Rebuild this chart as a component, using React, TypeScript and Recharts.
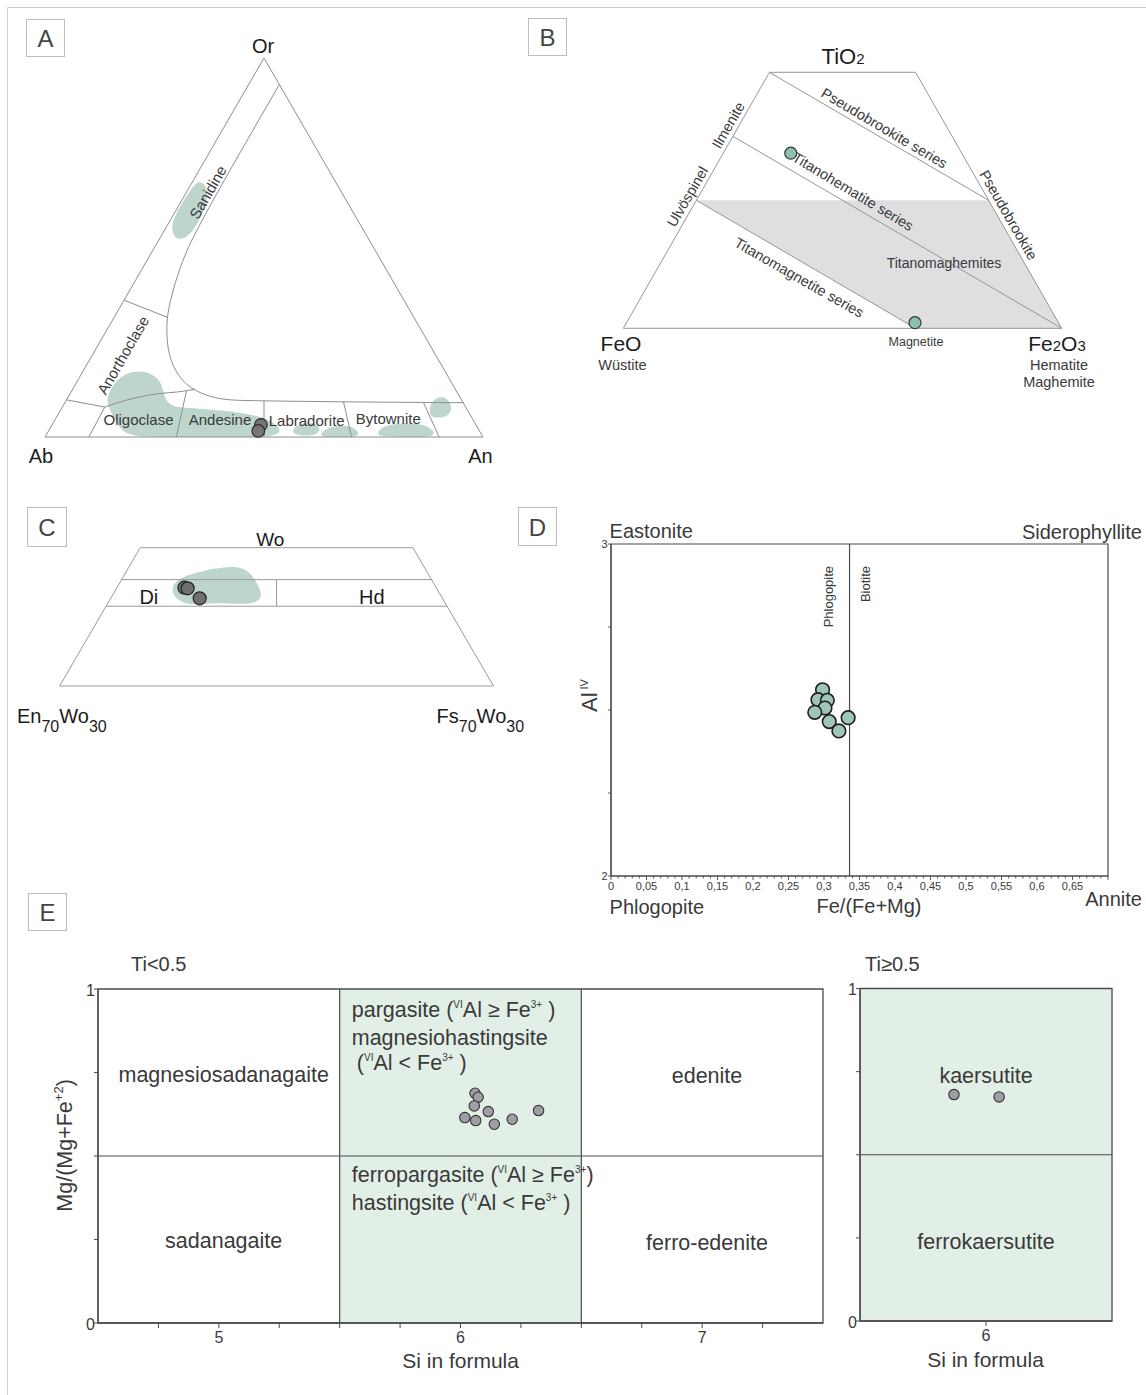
/* ── Mineral chemistry plates: feldspar, Fe-Ti oxide, pyroxene, mica, amphibole ── */

import React from 'react';
import { ScatterChart, Scatter, XAxis, YAxis, ReferenceArea, ReferenceLine } from 'recharts';

const FONT = '"Liberation Sans", Arial, Helvetica, sans-serif';
const INK = '#3a3a3a';
const DARK = '#1c1c1c';
const EDGE = '#8e8e8e';
const FRAME = '#4b4b4b';
const BLOB = '#bdd5cd';
const SHADE = '#dfdfe1';
const MINT = '#e2efe6';
const SIN60 = Math.sqrt(3) / 2;

type Pair = [number, number];
type Note = { text: string; at: Pair; angle?: number };

// A · feldspar, [An, Or] mol %, Ab is the remainder
const fspOutline: Pair[] = [[0, 0], [100, 0], [0, 100], [0, 0]];
const fspSolvus: Pair[] = [
  [7, 93], [7, 54], [8.4, 44.8], [10.5, 36.1], [12.4, 30.8], [14.1, 27.4], [16.6, 22.9],
  [20.0, 18.5], [24.5, 14.2], [29.6, 11.5], [35.5, 9.75], [42, 9.6], [50, 9.45], [70, 9.2], [90.95, 9.05],
];
const fspSanAno: Pair[] = [[0, 36.1], [12.1, 31.6]];
const fspAnoEdge: Pair[] = [[0, 9.8], [9.7, 7.9]];
const fspAnoCurve: Pair[] = [[9.7, 7.9], [13.8, 9.75], [18.4, 11.1], [26.2, 12.2], [28.0, 12.6]];
const fspDividers: Pair[][] = [
  [[10, 0], [9.7, 7.9]],
  [[30, 0], [26.2, 12.2]],
  [[50, 0], [45.25, 9.5]],
  [[70, 0], [63.5, 9.3]],
  [[90, 0], [81.9, 9.05]],
];
const fspBlobs: Pair[][] = [
  [[0.9, 67.8], [3.4, 66.8], [5.8, 62.9], [6.5, 59.0], [6.7, 55.0], [6.1, 52.6], [4.0, 52.0], [1.8, 54.2], [0.6, 57.1], [0.4, 60.9], [0.6, 64.6]],
  [[8.8, 10.5], [8.6, 14.4], [10.0, 16.9], [12.6, 17.5], [15.6, 16.9], [18.7, 15.0], [20.8, 12.4], [22.5, 9.8], [25.3, 7.9],
    [28.7, 7.7], [39.8, 6.7], [45.2, 5.7], [49.3, 4.4], [52.6, 2.3], [53.6, 0], [42, 0], [31, 0], [19.6, 0], [16.4, 1.9], [12.9, 5.3], [10.3, 8.2]],
  [[55.4, 2.5], [57.1, 3.8], [60.0, 3.6], [62.0, 2.0], [61.7, 0.5], [58.8, 0.3], [56.1, 0.8]],
  [[62.6, 0], [62.5, 1.6], [64.3, 2.9], [66.8, 3.1], [69.2, 2.6], [71.0, 1.2], [71.5, 0], [67, 0]],
  [[75.4, 0], [75.3, 2.2], [77.1, 3.4], [81.0, 3.7], [85.2, 3.3], [88.0, 1.6], [89.0, 0], [82, 0]],
  [[85.2, 5.4], [83.7, 8.0], [83.9, 10.2], [85.5, 10.8], [87.7, 9.4], [89.4, 7.2], [89.2, 5.4], [87.0, 5.0]],
];
const fspFields: Note[] = [
  { text: 'Sanidine', at: [4.9, 64.6], angle: -60 },
  { text: 'Anorthoclase', at: [7.0, 21.6], angle: -60 },
  { text: 'Oligoclase', at: [19.0, 4.7] },
  { text: 'Andesine', at: [37.7, 4.5] },
  { text: 'Labradorite', at: [57.6, 4.3] },
  { text: 'Bytownite', at: [76.0, 4.75] },
];
const plagioclase: Pair[] = [[47.7, 3.2], [47.9, 1.6]];

// B · Fe-Ti oxides, [Fe2O3, TiO2] cation fractions, FeO is the remainder
const oxOutline: Pair[] = [[0, 0], [1, 0], [1 / 3, 2 / 3], [0, 2 / 3], [0, 0]];
const oxMaghemite: Pair[] = [[0, 1 / 3], [2 / 3, 1 / 3], [1, 0], [2 / 3, 0]];
const oxPseudobrookite: Pair[] = [[0, 2 / 3], [2 / 3, 1 / 3]];
const oxTitanohematite: Pair[] = [[0, 0.5], [1, 0]];
const oxTitanomagnetite: Pair[] = [[0, 1 / 3], [2 / 3, 0]];
const oxFields: Note[] = [
  { text: 'Pseudobrookite series', at: [0.335, 0.521], angle: 30.6 },
  { text: 'Titanohematite series', at: [0.346, 0.356], angle: 31.1 },
  { text: 'Titanomagnetite series', at: [0.335, 0.132], angle: 29.7 },
  { text: 'Ilmenite', at: [-0.025, 0.529], angle: -60 },
  { text: 'Ulvöspinel', at: [-0.025, 0.343], angle: -60 },
  { text: 'Pseudobrookite', at: [0.731, 0.295], angle: 60 },
];
const oxShadeName: Note[] = [{ text: 'Titanomaghemites', at: [0.646, 0.171] }];
const oxides: Pair[] = [[0.154, 0.456], [0.658, 0.0146]];

// C · pyroxene, [Fs, Wo] fractions, En is the remainder
const pxOutline: Pair[] = [[0, 0.3], [0.7, 0.3], [0.44, 0.56], [0, 0.56], [0, 0.3]];
const pxUpper: Pair[] = [[0, 0.5], [0.5, 0.5]];
const pxLower: Pair[] = [[0, 0.45], [0.55, 0.45]];
const pxSplit: Pair[] = [[0.275, 0.45], [0.25, 0.5]];
const pxBlob: Pair[] = [
  [0.087, 0.487], [0.0905, 0.501], [0.109, 0.5115], [0.139, 0.521], [0.171, 0.526], [0.1965, 0.5175], [0.2215, 0.494],
  [0.242, 0.4711], [0.2415, 0.4565], [0.2155, 0.4535], [0.1801, 0.4565], [0.1539, 0.4535], [0.1255, 0.4535], [0.1005, 0.467],
];
const pxFields: Note[] = [
  { text: 'Di', at: [0.0606, 0.4667] },
  { text: 'Hd', at: [0.4204, 0.4667] },
];
const pyroxenes: Pair[] = [[0.109, 0.4848], [0.1148, 0.4836], [0.1436, 0.4648]];

// D · biotite, [Fe/(Fe+Mg), Al IV]
const biotite: Pair[] = [
  [0.298, 2.561], [0.2915, 2.531], [0.3047, 2.529], [0.3014, 2.506],
  [0.287, 2.493], [0.3074, 2.465], [0.321, 2.437], [0.334, 2.477],
];
const phlogopiteLimit = 0.336;
const micaFields: Note[] = [
  { text: 'Phlogopite', at: [0.307, 2.934], angle: -90 },
  { text: 'Biotite', at: [0.3585, 2.934], angle: -90 },
];
const fracTicks = Array.from({ length: 71 }, (_, i) => i / 100);
const alTicks = [2, 2.25, 2.5, 2.75, 3];

// E · calcic amphibole, [Si, Mg/(Mg+Fe2+)]
const amphLowTi: Pair[] = [
  [6.06, 0.688], [6.073, 0.676], [6.057, 0.65], [6.115, 0.633], [6.018, 0.615],
  [6.063, 0.606], [6.14, 0.595], [6.214, 0.61], [6.323, 0.636],
];
const amphHighTi: Pair[] = [[5.873, 0.681], [6.052, 0.674]];
const amphFieldsLow: Note[] = [
  { text: 'magnesiosadanagaite', at: [5.02, 0.744] },
  { text: 'sadanagaite', at: [5.02, 0.2455] },
  { text: 'edenite', at: [7.02, 0.7404] },
  { text: 'ferro-edenite', at: [7.02, 0.2404] },
];
const amphFieldsHigh: Note[] = [
  { text: 'kaersutite', at: [6.0, 0.738] },
  { text: 'ferrokaersutite', at: [6.0, 0.2368] },
];
const pargasiteNotes = [
  { at: [5.55, 0.917] as Pair, parts: ['pargasite (', '^VI', 'Al ≥ Fe', '^3+', ' )'] },
  { at: [5.55, 0.832] as Pair, parts: ['magnesiohastingsite'] },
  { at: [5.571, 0.7575] as Pair, parts: ['(', '^VI', 'Al < Fe', '^3+', ' )'] },
  { at: [5.55, 0.423] as Pair, parts: ['ferropargasite (', '^VI', 'Al ≥ Fe', '^3+', ')'] },
  { at: [5.55, 0.338] as Pair, parts: ['hastingsite (', '^VI', 'Al < Fe', '^3+', ' )'] },
];
const siTicksLow = [4.75, 5, 5.25, 5.5, 5.75, 6, 6.25, 6.5, 6.75, 7, 7.25];
const siTicksHigh = [6];
const mgTicks = [0, 0.25, 0.5, 0.75, 1];

/* projections onto the plotting plane */
const fspProj = ([an, or]: Pair) => ({ x: an + or / 2, y: or * SIN60 });
const oxProj = ([fe3, ti]: Pair) => ({ x: fe3 + ti / 2, y: ti });
const pxProj = ([fs, wo]: Pair) => ({ x: fs + wo / 2, y: wo });
const xyProj = ([x, y]: Pair) => ({ x, y });

const noMark = () => <g />;

const trace = (key: string, data: { x: number; y: number }[], curve = 'linear', stroke = EDGE, width = 1) => (
  <Scatter
    key={key}
    data={data}
    line={{ stroke, strokeWidth: width, fill: 'none' }}
    lineJointType={curve as any}
    shape={noMark}
    isAnimationActive={false}
  />
);

const patch = (key: string, data: { x: number; y: number }[], fill: string, curve = 'basisClosed') => (
  <Scatter
    key={key}
    data={data}
    line={{ fill, stroke: 'none' }}
    lineJointType={curve as any}
    shape={noMark}
    isAnimationActive={false}
  />
);

const dot = (r: number, fill: string, stroke: string, sw = 1.2) => (p: any) => (
  <circle cx={p.cx} cy={p.cy} r={r} fill={fill} stroke={stroke} strokeWidth={sw} />
);

const textMark = (size: number, anchor = 'middle', color = INK) => (p: any) => {
  const { cx, cy } = p;
  const { text, angle } = p.payload;
  return (
    <text
      x={cx}
      y={cy}
      fontSize={size}
      fill={color}
      fontFamily={FONT}
      textAnchor={anchor}
      dominantBaseline="central"
      transform={angle ? `rotate(${angle} ${cx} ${cy})` : undefined}
    >
      {text}
    </text>
  );
};

// text lines with small raised parts marked by a leading ^
const richMark = (size: number) => (p: any) => {
  const parts: string[] = p.payload.parts;
  return (
    <text x={p.cx} y={p.cy} fontSize={size} fill={INK} fontFamily={FONT} style={{ whiteSpace: 'pre' }}>
      {parts.map((s, i) => {
        const sup = s.startsWith('^');
        const wasSup = i > 0 && parts[i - 1].startsWith('^');
        const dy = sup && !wasSup ? -9 : !sup && wasSup ? 9 : 0;
        return (
          <tspan key={i} dy={dy} fontSize={sup ? 10 : size}>
            {sup ? s.slice(1) : s}
          </tspan>
        );
      })}
    </text>
  );
};

const notes = (list: Note[], proj: (p: Pair) => { x: number; y: number }) =>
  list.map((n) => ({ ...proj(n.at), text: n.text, angle: n.angle }));

/* ── A ── */
function FeldsparPanel() {
  return (
    <div style={{ position: 'absolute', left: 0, top: 0 }}>
      <ScatterChart width={520} height={470} margin={{ top: 58, right: 37, bottom: 33, left: 45 }}>
        <XAxis type="number" dataKey="x" domain={[0, 100]} hide />
        <YAxis type="number" dataKey="y" domain={[0, 100 * SIN60]} hide />
        {fspBlobs.map((b, i) => patch(`blob${i}`, b.map(fspProj), BLOB))}
        {trace('outline', fspOutline.map(fspProj))}
        {trace('solvus', fspSolvus.map(fspProj), 'basis')}
        {trace('sanano', fspSanAno.map(fspProj))}
        {trace('anoedge', fspAnoEdge.map(fspProj))}
        {trace('anocurve', fspAnoCurve.map(fspProj), 'monotoneX')}
        {fspDividers.map((d, i) => trace(`div${i}`, d.map(fspProj)))}
        <Scatter data={notes(fspFields, fspProj)} shape={textMark(15)} isAnimationActive={false} />
        <Scatter data={plagioclase.map(fspProj)} shape={dot(6.3, '#767676', '#2e2e2e')} isAnimationActive={false} />
      </ScatterChart>
    </div>
  );
}

/* ── B ── */
function OxidePanel() {
  return (
    <div style={{ position: 'absolute', left: 560, top: 20 }}>
      <ScatterChart width={560} height={330} margin={{ top: 52.3, right: 58.3, bottom: 21.7, left: 63.3 }}>
        <XAxis type="number" dataKey="x" domain={[0, 1]} hide />
        <YAxis type="number" dataKey="y" domain={[0, 2 / 3]} hide />
        {patch('maghemite', oxMaghemite.map(oxProj), SHADE, 'linearClosed')}
        {trace('outline', oxOutline.map(oxProj), 'linear', '#969696')}
        {trace('pseudobrookite', oxPseudobrookite.map(oxProj), 'linear', '#969696')}
        {trace('titanohematite', oxTitanohematite.map(oxProj), 'linear', '#969696')}
        {trace('titanomagnetite', oxTitanomagnetite.map(oxProj), 'linear', '#969696')}
        <Scatter data={notes(oxFields, oxProj)} shape={textMark(14.5)} isAnimationActive={false} />
        <Scatter data={notes(oxShadeName, oxProj)} shape={textMark(14)} isAnimationActive={false} />
        <Scatter data={oxides.map(oxProj)} shape={dot(6, '#8fbfb1', '#2f3d39')} isAnimationActive={false} />
      </ScatterChart>
    </div>
  );
}

/* ── C ── */
function PyroxenePanel() {
  return (
    <div style={{ position: 'absolute', left: 20, top: 520 }}>
      <ScatterChart width={500} height={180} margin={{ top: 27.7, right: 26.5, bottom: 14, left: 39.6 }}>
        <XAxis type="number" dataKey="x" domain={[0.15, 0.85]} hide />
        <YAxis type="number" dataKey="y" domain={[0.3, 0.56]} hide />
        {patch('blob', pxBlob.map(pxProj), BLOB)}
        {trace('outline', pxOutline.map(pxProj), 'linear', '#9a9a9a')}
        {trace('upper', pxUpper.map(pxProj), 'linear', '#9a9a9a')}
        {trace('lower', pxLower.map(pxProj), 'linear', '#9a9a9a')}
        {trace('split', pxSplit.map(pxProj), 'linear', '#9a9a9a')}
        <Scatter data={notes(pxFields, pxProj)} shape={textMark(20, 'middle', DARK)} isAnimationActive={false} />
        <Scatter data={pyroxenes.map(pxProj)} shape={dot(6.5, '#6f6f6f', '#222222')} isAnimationActive={false} />
      </ScatterChart>
    </div>
  );
}

/* ── D ── */
const fmtFrac = (v: number) => String(Number(v.toFixed(2))).replace('.', ',');

const fracTick = (p: any) => {
  const v = p.payload.value;
  const major = Math.abs(v * 20 - Math.round(v * 20)) < 1e-6;
  return (
    <g>
      <line x1={p.x} x2={p.x} y1={p.y} y2={p.y + (major ? 4 : 2.5)} stroke={FRAME} strokeWidth={0.9} />
      {major && v < 0.69 && (
        <text x={p.x} y={p.y + 13.5} textAnchor="middle" fontSize={11} fill={INK} fontFamily={FONT}>
          {fmtFrac(v)}
        </text>
      )}
    </g>
  );
};

const alTick = (p: any) => {
  const v = p.payload.value;
  const end = v === 2 || v === 3;
  return (
    <g>
      <line x1={p.x - 3} x2={p.x} y1={p.y} y2={p.y} stroke={FRAME} strokeWidth={0.9} />
      {end && (
        <text x={p.x - 3.5} y={p.y} textAnchor="end" dominantBaseline="central" fontSize={11} fill={INK} fontFamily={FONT}>
          {v}
        </text>
      )}
    </g>
  );
};

function MicaPanel() {
  return (
    <div style={{ position: 'absolute', left: 560, top: 500 }}>
      <ScatterChart width={586} height={430} margin={{ top: 44, right: 38, bottom: 24, left: 21 }}>
        <XAxis
          type="number"
          dataKey="x"
          domain={[0, 0.7]}
          ticks={fracTicks}
          interval={0}
          tick={fracTick}
          tickLine={false}
          tickSize={0}
          tickMargin={0}
          axisLine={{ stroke: FRAME, strokeWidth: 1.2 }}
          height={30}
        />
        <YAxis
          type="number"
          dataKey="y"
          domain={[2, 3]}
          ticks={alTicks}
          interval={0}
          tick={alTick}
          tickLine={false}
          tickSize={0}
          tickMargin={0}
          axisLine={{ stroke: FRAME, strokeWidth: 1.2 }}
          width={30}
        />
        <ReferenceArea x1={0} x2={0.7} y1={2} y2={3} fill="none" stroke={FRAME} strokeWidth={1.2} />
        <ReferenceLine x={phlogopiteLimit} stroke={FRAME} strokeWidth={1.2} />
        <Scatter data={notes(micaFields, xyProj)} shape={textMark(13, 'end')} isAnimationActive={false} />
        <Scatter data={biotite.map(xyProj)} shape={dot(6.8, '#9dc5b9', '#1e1e1e', 1.6)} isAnimationActive={false} />
      </ScatterChart>
    </div>
  );
}

/* ── E ── */
const siTick = (p: any) => {
  const v = p.payload.value;
  return (
    <g>
      <line x1={p.x} x2={p.x} y1={p.y} y2={p.y + 5} stroke={FRAME} />
      {Number.isInteger(v) && (
        <text x={p.x} y={p.y + 20.3} textAnchor="middle" fontSize={16} fill={INK} fontFamily={FONT}>
          {v}
        </text>
      )}
    </g>
  );
};

const mgTick = (p: any) => {
  const v = p.payload.value;
  const end = v === 0 || v === 1;
  return (
    <g>
      <line x1={p.x - 4} x2={p.x} y1={p.y} y2={p.y} stroke={FRAME} />
      {end && (
        <text x={p.x - 3} y={p.y + 1} textAnchor="end" dominantBaseline="central" fontSize={16} fill={INK} fontFamily={FONT}>
          {v}
        </text>
      )}
    </g>
  );
};

const amphAxes = (domain: [number, number], ticks: number[], yWidth: number) => [
  <XAxis
    key="x"
    type="number"
    dataKey="x"
    domain={domain}
    ticks={ticks}
    interval={0}
    tick={siTick}
    tickLine={false}
    tickSize={0}
    tickMargin={0}
    axisLine={{ stroke: FRAME, strokeWidth: 1.3 }}
    height={60}
  />,
  <YAxis
    key="y"
    type="number"
    dataKey="y"
    domain={[0, 1]}
    ticks={mgTicks}
    interval={0}
    tick={mgTick}
    tickLine={false}
    tickSize={0}
    tickMargin={0}
    axisLine={{ stroke: FRAME, strokeWidth: 1.3 }}
    width={yWidth}
  />,
];

function AmphibolePanels() {
  return (
    <>
      <div style={{ position: 'absolute', left: 20, top: 940 }}>
        <ScatterChart width={830} height={450} margin={{ top: 49, right: 27, bottom: 7, left: 38 }}>
          {amphAxes([4.5, 7.5], siTicksLow, 40)}
          <ReferenceArea x1={5.5} x2={6.5} y1={0} y2={1} fill={MINT} fillOpacity={1} stroke="none" />
          <ReferenceLine y={0.5} stroke={FRAME} strokeWidth={1.2} />
          <ReferenceLine x={5.5} stroke={FRAME} strokeWidth={1.2} />
          <ReferenceLine x={6.5} stroke={FRAME} strokeWidth={1.2} />
          <ReferenceArea x1={4.5} x2={7.5} y1={0} y2={1} fill="none" stroke={FRAME} strokeWidth={1.3} />
          <Scatter data={notes(amphFieldsLow, xyProj)} shape={textMark(21.5)} isAnimationActive={false} />
          <Scatter
            data={pargasiteNotes.map((n) => ({ ...xyProj(n.at), parts: n.parts }))}
            shape={richMark(21.5)}
            isAnimationActive={false}
          />
          <Scatter data={amphLowTi.map(xyProj)} shape={dot(5.2, '#9e9ea4', '#333333', 1.1)} isAnimationActive={false} />
        </ScatterChart>
      </div>
      <div style={{ position: 'absolute', left: 820, top: 940 }}>
        <ScatterChart width={326} height={450} margin={{ top: 48.5, right: 34, bottom: 9, left: 10 }}>
          {amphAxes([5.5, 6.5], siTicksHigh, 30)}
          <ReferenceArea x1={5.5} x2={6.5} y1={0} y2={1} fill={MINT} fillOpacity={1} stroke="none" />
          <ReferenceLine y={0.5} stroke={FRAME} strokeWidth={1.2} />
          <ReferenceArea x1={5.5} x2={6.5} y1={0} y2={1} fill="none" stroke={FRAME} strokeWidth={1.3} />
          <Scatter data={notes(amphFieldsHigh, xyProj)} shape={textMark(21.5)} isAnimationActive={false} />
          <Scatter data={amphHighTi.map(xyProj)} shape={dot(5.2, '#9e9ea4', '#333333', 1.1)} isAnimationActive={false} />
        </ScatterChart>
      </div>
    </>
  );
}

/* ── plate frame, panel letters, end-member and axis titles ── */
function Overlay() {
  const box = (x: number, y: number, w: number, h: number, letter: string) => (
    <g key={letter}>
      <rect x={x + 0.5} y={y + 0.5} width={w} height={h} fill="none" stroke="#bdbdbd" />
      <text x={x + w / 2 + 0.5} y={y + h / 2 + 1} textAnchor="middle" dominantBaseline="central" fontSize={24} fill="#454545">
        {letter}
      </text>
    </g>
  );
  const sub = { fontSize: 16 };
  return (
    <svg
      width={1146}
      height={1395}
      style={{ position: 'absolute', left: 0, top: 0, pointerEvents: 'none' }}
      fontFamily={FONT}
    >
      <path d="M7.5 1395 V7.5 H1146" fill="none" stroke="#cdcdcd" />
      {box(26, 19, 38, 37, 'A')}
      {box(528, 18, 38, 37, 'B')}
      {box(27, 507, 39, 39, 'C')}
      {box(518, 507, 38, 38, 'D')}
      {box(28, 893, 38, 37, 'E')}

      <g fontSize={20} fill={DARK} textAnchor="middle">
        <text x={263} y={52.5}>Or</text>
        <text x={41} y={463}>Ab</text>
        <text x={480.5} y={463}>An</text>
      </g>

      <g fill={DARK} textAnchor="middle">
        <text x={843} y={64} fontSize={22}>
          TiO<tspan fontSize={15}>2</tspan>
        </text>
        <text x={621} y={351} fontSize={21}>FeO</text>
        <text x={1057} y={351} fontSize={21}>
          Fe<tspan fontSize={15}>2</tspan>O<tspan fontSize={15}>3</tspan>
        </text>
      </g>
      <g fill={INK} textAnchor="middle" fontSize={14.5}>
        <text x={622.5} y={370}>Wüstite</text>
        <text x={1059} y={370}>Hematite</text>
        <text x={1059} y={387}>Maghemite</text>
        <text x={916} y={346} fontSize={12.5}>Magnetite</text>
      </g>

      <g fill={DARK} fontSize={20}>
        <text x={270.3} y={546} textAnchor="middle" fontSize={19}>Wo</text>
        <text x={17} y={723}>
          En<tspan {...sub} dy={9}>70</tspan>
          <tspan dy={-9}>Wo</tspan>
          <tspan {...sub} dy={9}>30</tspan>
        </text>
        <text x={436.6} y={723}>
          Fs<tspan {...sub} dy={9}>70</tspan>
          <tspan dy={-9}>Wo</tspan>
          <tspan {...sub} dy={9}>30</tspan>
        </text>
      </g>

      <g fill={INK} fontSize={20}>
        <text x={609.6} y={538.3}>Eastonite</text>
        <text x={1142} y={538.5} textAnchor="end">Siderophyllite</text>
        <text x={609.6} y={914}>Phlogopite</text>
        <text x={1142} y={906} textAnchor="end">Annite</text>
        <text x={869} y={912.6} textAnchor="middle">Fe/(Fe+Mg)</text>
        <text transform="translate(597 712) rotate(-90)" fontSize={22}>
          Al<tspan fontSize={11} dx={3} dy={-9}>IV</tspan>
        </text>
      </g>

      <g fill={INK} fontSize={20}>
        <text x={131} y={971}>Ti&lt;0.5</text>
        <text x={865} y={971}>Ti≥0.5</text>
        <text x={460.6} y={1368} textAnchor="middle" fontSize={21}>Si in formula</text>
        <text x={985.5} y={1366.7} textAnchor="middle" fontSize={21}>Si in formula</text>
        <text transform="translate(71.7 1211.7) rotate(-90)" fontSize={21.5}>
          Mg/(Mg+Fe<tspan fontSize={13} dy={-9}>+2</tspan>
          <tspan dy={9}>)</tspan>
        </text>
      </g>
    </svg>
  );
}

export default function App() {
  return (
    <div
      style={{
        position: 'fixed',
        left: 0,
        top: 0,
        width: 1146,
        height: 1395,
        background: '#ffffff',
        fontFamily: FONT,
        overflow: 'hidden',
      }}
    >
      <FeldsparPanel />
      <OxidePanel />
      <PyroxenePanel />
      <MicaPanel />
      <AmphibolePanels />
      <Overlay />
    </div>
  );
}
